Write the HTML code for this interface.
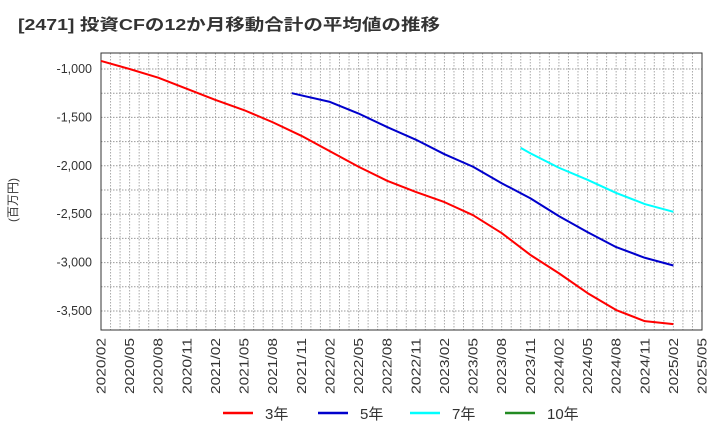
<!DOCTYPE html>
<html><head><meta charset="utf-8"><style>
body{margin:0;background:#fff;}
svg text{font-family:"Liberation Sans","Noto Sans CJK JP",sans-serif;}
</style></head><body>
<svg width="720" height="440" xmlns="http://www.w3.org/2000/svg" id="c">
<text x="18" y="30" font-size="16" font-weight="bold" fill="#333" textLength="422" lengthAdjust="spacingAndGlyphs">[2471]  投資CFの12か月移動合計の平均値の推移</text>
<text transform="translate(17,200) rotate(-90)" font-size="12" fill="#333" text-anchor="middle">(百万円)</text>
<g id="grid"></g>
<g id="ax"></g>
<g id="lines"></g>
<g id="leg"></g>
</svg>
<script>
const xTickLabels=["2020/02","2020/05","2020/08","2020/11","2021/02","2021/05","2021/08","2021/11","2022/02","2022/05","2022/08","2022/11","2023/02","2023/05","2023/08","2023/11","2024/02","2024/05","2024/08","2024/11","2025/02","2025/05"];
const yTicks=[-1000,-1500,-2000,-2500,-3000,-3500];
const seriesNames=["3年","5年","7年","10年"];
const seriesColors=["#ff0000","#0000cc","#00ffff","#228b22"];
// month indices from 2020/02
const m3=[0,3,6,9,12,15,18,21,24,27,30,33,36,39,42,45,48,51,54,57,60];
const v3=[-917,-1000,-1090,-1205,-1320,-1425,-1550,-1690,-1850,-2010,-2155,-2270,-2375,-2510,-2695,-2920,-3110,-3315,-3490,-3605,-3635];
const m5=[20,24,27,30,33,36,39,42,45,48,51,54,57,60];
const v5=[-1250,-1340,-1460,-1600,-1730,-1880,-2010,-2180,-2335,-2520,-2685,-2840,-2950,-3030];
const m7=[44,45,48,51,54,57,60];
const v7=[-1815,-1870,-2020,-2145,-2280,-2395,-2475];
const m10=[];const v10=[];

const L=101,R=702,T=53,B=330,NM=63;
const xs=m=>L+m*(R-L)/NM;
const ys=v=>69+(-1000-v)/500*48.4;
const NS="http://www.w3.org/2000/svg";
function mk(t,a,p){const e=document.createElementNS(NS,t);for(const k in a)e.setAttribute(k,a[k]);p.appendChild(e);return e;}
const g=document.getElementById('grid'),ax=document.getElementById('ax'),ln=document.getElementById('lines'),lg=document.getElementById('leg');
for(let m=1;m<NM;m++){const l=mk('line',{x1:xs(m),x2:xs(m),y1:T,y2:B,stroke:'#aaa','stroke-dasharray':'1.5,1.5','stroke-width':1},g);

}
for(let v=-1000;v>=-3500;v-=250){const l=mk('line',{x1:L,x2:R,y1:ys(v),y2:ys(v),stroke:'#999','stroke-dasharray':'1.5,1.5','stroke-width':1},g);

}
const fr=mk('rect',{x:L,y:T,width:R-L,height:B-T,fill:'none',stroke:'#333','stroke-width':1},ax);


yTicks.forEach(v=>{const t=mk('text',{x:92,y:ys(v)+4,'font-size':12.5,fill:'#333','text-anchor':'end'},ax);t.textContent=v.toLocaleString('en-US');

});
xTickLabels.forEach((s,i)=>{const x=xs(i*3);const t=mk('text',{transform:`translate(${x+4.5},338) rotate(-90)`,'font-size':12.5,fill:'#333','text-anchor':'end',textLength:56,lengthAdjust:'spacingAndGlyphs'},ax);t.textContent=s;

});
[[m3,v3],[m5,v5],[m7,v7],[m10,v10]].forEach(([m,v],i)=>{if(!m.length)return;
const p=mk('polyline',{points:m.map((mm,j)=>xs(mm)+','+ys(v[j])).join(' '),fill:'none',stroke:seriesColors[i],'stroke-width':2,'stroke-linejoin':'round'},ln);

});
const lx=[223,318,410,505];
seriesNames.forEach((n,i)=>{const gg=mk('g',{},lg);


mk('line',{x1:lx[i],x2:lx[i]+30,y1:413,y2:413,stroke:seriesColors[i],'stroke-width':2.5},gg);
const t=mk('text',{x:lx[i]+42,y:419,'font-size':15,fill:'#333'},gg);t.textContent=n;});
</script>
</body></html>
